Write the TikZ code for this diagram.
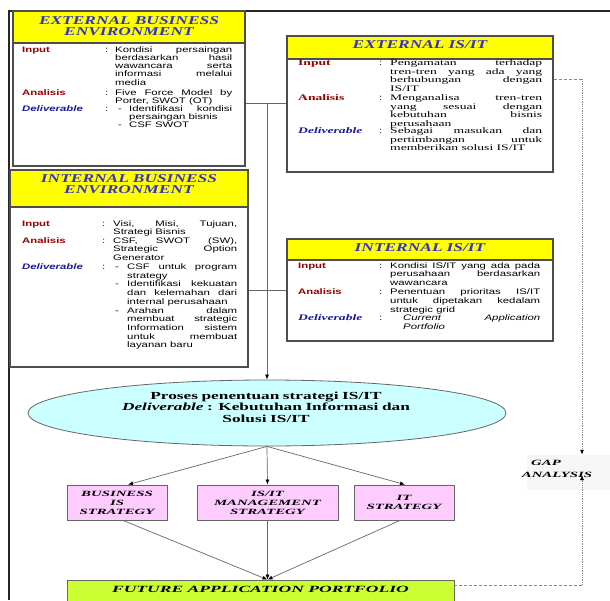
\documentclass[tikz,border=0pt]{standalone}
\usepackage{fontspec}
\setmainfont{Liberation Serif}
\newfontfamily\fsans[FakeStretch=1.42]{Liberation Sans}
\newfontfamily\fttl[FakeStretch=1.45]{Liberation Serif}
\newfontfamily\fserB[FakeStretch=1.6]{Liberation Serif}
\newfontfamily\fserC[FakeStretch=1.85]{Liberation Serif}
\usetikzlibrary{shapes.geometric,arrows.meta}
\definecolor{boxgray}{HTML}{4D4D4D}
\definecolor{lnk}{HTML}{666666}
\definecolor{ttlblue}{HTML}{3333CC}
\definecolor{lblred}{HTML}{990000}
\definecolor{delblue}{HTML}{1A1A99}
\definecolor{hdryellow}{HTML}{FFFF00}
\definecolor{ellfill}{HTML}{CCFFFF}
\definecolor{pinkfill}{HTML}{FFCCFF}
\definecolor{futfill}{HTML}{CCFF33}
\definecolor{dashgray}{HTML}{8A8A8A}
\definecolor{gapbgc}{HTML}{F6F6F6}
\newcommand\parsetup{\tolerance=10000 \hyphenpenalty=10000 \exhyphenpenalty=10000 }
\tikzset{
  frameline/.style={draw=black!85, line width=1.4pt},
  box/.style={draw=boxgray, line width=1.1pt, rectangle, inner sep=0pt, fill=white},
  hdr/.style={draw=boxgray, line width=1.1pt, rectangle, inner sep=0pt, fill=hdryellow},
  ttl/.style={anchor=base, inner sep=0pt, text width=#1, align=center,
    font=\fttl\fontsize{12}{11}\selectfont\bfseries\itshape, text=ttlblue},
  lblS/.style={anchor=base west, inner sep=0pt, font=\fsans\fontsize{8}{8}\selectfont\bfseries, text=lblred},
  delS/.style={anchor=base west, inner sep=0pt, font=\fsans\fontsize{8}{8}\selectfont\bfseries\itshape, text=delblue},
  lblR/.style={anchor=base west, inner sep=0pt, font=\fserB\fontsize{8.5}{8.5}\selectfont\bfseries, text=lblred},
  delR/.style={anchor=base west, inner sep=0pt, font=\fserB\fontsize{8.5}{8.5}\selectfont\bfseries\itshape, text=delblue},
  colS/.style={anchor=base west, inner sep=0pt, font=\fsans\fontsize{8}{8}\selectfont},
  bodyS/.style={anchor=base west, inner sep=0pt, align=justify,
    font=\fsans\fontsize{8}{#1}\selectfont\parsetup},
  bodyR/.style={anchor=base west, inner sep=0pt, align=justify,
    font=\fserB\fontsize{8.5}{#1}\selectfont\parsetup},
  dashS/.style={anchor=base west, inner sep=0pt, font=\fsans\fontsize{8}{8}\selectfont},
  ell/.style={ellipse, draw=lnk, line width=0.8pt, fill=ellfill, inner sep=0pt},
  elltxt/.style={anchor=base, inner sep=0pt, text width=440pt, align=center,
    font=\fserB\fontsize{10.8}{11.5}\selectfont\bfseries},
  sbox/.style={draw=lnk, line width=0.8pt, fill=pinkfill, inner sep=0pt, align=center,
    minimum height=35pt, font=\fserC\fontsize{8}{9}\selectfont\bfseries\itshape},
  fbox/.style={draw=lnk, line width=0.8pt, fill=futfill, inner sep=0pt},
  futtxt/.style={anchor=base, inner sep=0pt, font=\fserC\fontsize{9.5}{10}\selectfont\bfseries\itshape},
  gaptxt/.style={anchor=base, inner sep=0pt, text width=80pt, align=center,
    font=\fserC\fontsize{8}{12}\selectfont\bfseries\itshape},
  conn/.style={draw=lnk, line width=0.7pt},
  arr/.style={-{Latex[length=5pt,width=4pt,color=black]}},
  dashH/.style={draw=dashgray, line width=0.8pt, dash pattern=on 3pt off 2pt},
  dotV/.style={draw=dashgray, line width=0.9pt, dash pattern=on 1pt off 0.8pt},
}
\begin{document}
\begin{tikzpicture}[x=1pt,y=-1pt]
\useasboundingbox (0,0) rectangle (610,600);
% outer frame
\draw[frameline] (9,600) -- (9,11) -- (610,11);

% ---------- EXTERNAL BUSINESS ENVIRONMENT ----------
\node[box, minimum width=232pt, minimum height=155pt] (ebe) at (129,88.5) {};
\node[hdr, minimum width=232pt, minimum height=32pt] (ebeh) at (129,27) {};
\node[ttl=232pt] (ebet) at (129,24) {EXTERNAL BUSINESS\\ENVIRONMENT};
\node[lblS] (ebl1) at (22,52) {Input};
\node[colS] (ebc1) at (105,52) {:};
\node[bodyS=8.3, text width=117pt] (ebb1) at (115,52) {Kondisi persaingan\linebreak berdasarkan hasil\linebreak wawancara serta\linebreak informasi melalui\linebreak media};
\node[lblS] (ebl2) at (22,95) {Analisis};
\node[colS] (ebc2) at (105,95) {:};
\node[bodyS=8.3, text width=117pt] (ebb2) at (115,95) {Five Force Model by\linebreak Porter, SWOT (OT)};
\node[delS] (ebl3) at (22,111) {Deliverable};
\node[colS] (ebc3) at (105,111) {:};
\node[dashS] (ebd1) at (118,111) {-};
\node[bodyS=8.3, text width=103pt] (ebb3) at (129,111) {Identifikasi kondisi\linebreak persaingan bisnis};
\node[dashS] (ebd2) at (118,127.6) {-};
\node[bodyS=8.3, text width=103pt] (ebb4) at (129,127.6) {CSF SWOT};

% ---------- EXTERNAL IS/IT ----------
\node[box, minimum width=266pt, minimum height=136pt] (eit) at (420,104) {};
\node[hdr, minimum width=266pt, minimum height=23pt] (eith) at (420,47.5) {};
\node[ttl=266pt] (eitt) at (420,48.5) {EXTERNAL IS/IT};
\node[lblR] (eil1) at (298,65.5) {Input};
\node[colS] (eic1) at (379,65.5) {:};
\node[bodyR=8.5, text width=152pt] (eib1) at (390,65.5) {Pengamatan terhadap\linebreak tren-tren yang ada yang\linebreak berhubungan dengan\linebreak IS/IT};
\node[lblR] (eil2) at (298,100.5) {Analisis};
\node[colS] (eic2) at (379,100.5) {:};
\node[bodyR=8.5, text width=152pt] (eib2) at (390,100.5) {Menganalisa tren-tren\linebreak yang sesuai dengan\linebreak kebutuhan bisnis\linebreak perusahaan};
\node[delR] (eil3) at (298,133.5) {Deliverable};
\node[colS] (eic3) at (379,133.5) {:};
\node[bodyR=8.5, text width=152pt] (eib3) at (390,133.5) {Sebagai masukan dan\linebreak pertimbangan untuk\linebreak memberikan solusi IS/IT};

% ---------- INTERNAL BUSINESS ENVIRONMENT ----------
\node[box, minimum width=238pt, minimum height=197pt] (ibe) at (129,268.5) {};
\node[hdr, minimum width=238pt, minimum height=37pt] (ibeh) at (129,188.5) {};
\node[ttl=238pt] (ibet) at (129,182.5) {INTERNAL BUSINESS\\ENVIRONMENT};
\node[lblS] (ibl1) at (22,226) {Input};
\node[colS] (ibc1) at (102,226) {:};
\node[bodyS=8.7, text width=124pt] (ibb1) at (113,226) {Visi, Misi, Tujuan,\linebreak Strategi Bisnis};
\node[lblS] (ibl2) at (22,243) {Analisis};
\node[colS] (ibc2) at (102,243) {:};
\node[bodyS=8.7, text width=124pt] (ibb2) at (113,243) {CSF, SWOT (SW),\linebreak Strategic Option\linebreak Generator};
\node[delS] (ibl3) at (22,269.5) {Deliverable};
\node[colS] (ibc3) at (102,269.5) {:};
\node[dashS] (ibd1) at (115,269.5) {-};
\node[bodyS=8.7, text width=110pt] (ibb3) at (127,269.5) {CSF untuk program\linebreak strategy};
\node[dashS] (ibd2) at (115,286.9) {-};
\node[bodyS=8.7, text width=110pt] (ibb4) at (127,286.9) {Identifikasi kekuatan\linebreak dan kelemahan dari\linebreak internal perusahaan};
\node[dashS] (ibd3) at (115,313) {-};
\node[bodyS=8.7, text width=110pt] (ibb5) at (127,313) {Arahan dalam\linebreak membuat strategic\linebreak Information sistem\linebreak untuk membuat\linebreak layanan baru};

% ---------- INTERNAL IS/IT ----------
\node[box, minimum width=266pt, minimum height=102pt] (iit) at (420,290) {};
\node[hdr, minimum width=266pt, minimum height=21pt] (iith) at (420,249.5) {};
\node[ttl=266pt] (iitt) at (420,251.5) {INTERNAL IS/IT};
\node[lblS] (iil1) at (298,268) {Input};
\node[colS] (iic1) at (379,268) {:};
\node[bodyS=8.8, text width=150pt] (iib1) at (390,268) {Kondisi IS/IT yang ada pada\linebreak perusahaan berdasarkan\linebreak wawancara};
\node[lblS] (iil2) at (298,294.5) {Analisis};
\node[colS] (iic2) at (379,294.5) {:};
\node[bodyS=8.8, text width=150pt] (iib2) at (390,294.5) {Penentuan prioritas IS/IT\linebreak untuk dipetakan kedalam\linebreak strategic grid};
\node[delR] (iil3) at (298,320.5) {Deliverable};
\node[colS] (iic3) at (379,320.5) {:};
\node[bodyS=8.8, text width=137pt] (iib3) at (403,320.5) {\itshape Current Application\linebreak Portfolio};

% ---------- PROCESS ELLIPSE ----------
\node[ell, minimum width=478pt, minimum height=66pt] (proc) at (267,413) {};
\node[elltxt] (proct) at (266,399) {Proses penentuan strategi IS/IT\\\textit{Deliverable} : Kebutuhan Informasi dan\\Solusi IS/IT};

% ---------- STRATEGY BOXES ----------
\node[sbox, minimum width=100pt] (bis) at (117,502.5) {BUSINESS\\IS\\STRATEGY};
\node[sbox, minimum width=141pt] (mgt) at (267.5,502.5) {IS/IT\\MANAGEMENT\\STRATEGY};
\node[sbox, minimum width=100pt] (its) at (404,502.5) {IT\\STRATEGY};

% ---------- FUTURE ----------
\node[fbox, minimum width=387pt, minimum height=40pt] (fut) at (260.5,600) {};
\node[futtxt] (futt) at (260.5,592) {FUTURE APPLICATION PORTFOLIO};

% ---------- GAP ANALYSIS ----------
\node[fill=gapbgc, inner sep=0pt, minimum width=83pt, minimum height=35pt] (gapbg) at (568.5,472.5) {};
\node[gaptxt] (gap) at (557,465) {GAP\rule{22pt}{0pt}\\ANALYSIS};

% ---------- CONNECTORS ----------
\coordinate (j1) at (267,103);
\coordinate (j2) at (267,290);
\draw[conn] (ebe.east |- j1) -- (eit.west |- j1);
\draw[conn] (ibe.east |- j2) -- (iit.west |- j2);
\draw[conn, arr] (j1) -- (proc.north);

\coordinate (t1) at (128,0);
\coordinate (t3) at (405,0);
\draw[conn, arr] (proc.south) -- (bis.north -| t1);
\draw[conn, arr] (proc.south) -- (mgt.north);
\draw[conn, arr] (proc.south) -- (its.north -| t3);

\coordinate (b1) at (123,0);
\coordinate (b3) at (400,0);
\draw[conn, arr] (bis.south -| b1) -- (fut.north -| mgt.south);
\draw[conn, arr] (mgt.south) -- (fut.north -| mgt.south);
\draw[conn, arr] (its.south -| b3) -- (fut.north -| mgt.south);

% dashed links to GAP ANALYSIS
\coordinate (g1) at (582,79);
\coordinate (g2) at (582,585);
\coordinate (g3) at (582,475);
\draw[dashH] (eit.east |- g1) -- (g1);
\draw[dotV, arr] (g1) -- (gapbg.north -| g1);
\draw[dashH] (fut.east |- g2) -- (g2);
\draw[dotV, arr] (g2) -- (g3);
\end{tikzpicture}
\end{document}
